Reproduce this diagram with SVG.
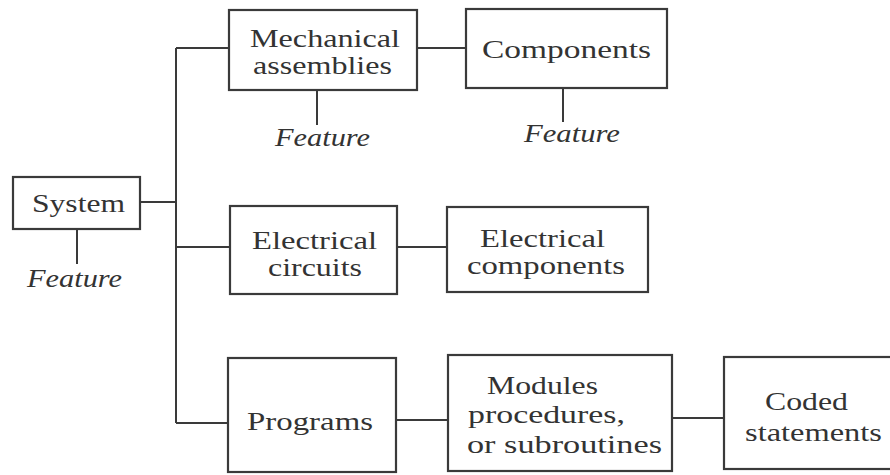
<svg xmlns="http://www.w3.org/2000/svg" width="890" height="475" viewBox="0 0 890 475">
<style>
.box{fill:none;stroke:#3a3a3a;stroke-width:2.2}
.ln{fill:none;stroke:#3a3a3a;stroke-width:2}
.t{font-family:"Liberation Serif","Times New Roman",serif;font-size:26px;fill:#333}
.f{font-family:"Liberation Serif","Times New Roman",serif;font-size:25px;font-style:italic;fill:#333}
</style>
<rect width="890" height="475" fill="#ffffff"/>
<g id="connectors">
<line class="ln" x1="176" y1="48" x2="176" y2="423"/>
<line class="ln" x1="140" y1="202" x2="176" y2="202"/>
<line class="ln" x1="176" y1="48" x2="229" y2="48"/>
<line class="ln" x1="417" y1="48" x2="466" y2="48"/>
<line class="ln" x1="176" y1="247" x2="230" y2="247"/>
<line class="ln" x1="397" y1="247" x2="447" y2="247"/>
<line class="ln" x1="176" y1="423" x2="228" y2="423"/>
<line class="ln" x1="396" y1="420" x2="448" y2="420"/>
<line class="ln" x1="672" y1="418" x2="724" y2="418"/>
<line class="ln" x1="77" y1="229" x2="77" y2="264"/>
<line class="ln" x1="317" y1="90" x2="317" y2="125"/>
<line class="ln" x1="563" y1="88" x2="563" y2="122"/>
</g>
<g id="system">
<rect class="box" x="13" y="177" width="127" height="52"/>
<text class="t" x="32" y="212" textLength="93" lengthAdjust="spacingAndGlyphs">System</text>
</g>
<g id="system-feature">
<text class="f" x="27" y="287" textLength="95" lengthAdjust="spacingAndGlyphs">Feature</text>
</g>
<g id="mechanical">
<rect class="box" x="229" y="10" width="188" height="80"/>
<text class="t" x="250" y="47" textLength="150" lengthAdjust="spacingAndGlyphs">Mechanical</text>
<text class="t" x="253" y="74" textLength="139" lengthAdjust="spacingAndGlyphs">assemblies</text>
</g>
<g id="mechanical-feature">
<text class="f" x="275" y="146" textLength="95" lengthAdjust="spacingAndGlyphs">Feature</text>
</g>
<g id="components">
<rect class="box" x="466" y="9" width="201" height="79"/>
<text class="t" x="482" y="58" textLength="169" lengthAdjust="spacingAndGlyphs">Components</text>
</g>
<g id="components-feature">
<text class="f" x="524" y="142" textLength="96" lengthAdjust="spacingAndGlyphs">Feature</text>
</g>
<g id="electrical-circuits">
<rect class="box" x="230" y="206" width="167" height="88"/>
<text class="t" x="252" y="249" textLength="125" lengthAdjust="spacingAndGlyphs">Electrical</text>
<text class="t" x="268" y="276" textLength="94" lengthAdjust="spacingAndGlyphs">circuits</text>
</g>
<g id="electrical-components">
<rect class="box" x="447" y="207" width="201" height="85"/>
<text class="t" x="480" y="247" textLength="125" lengthAdjust="spacingAndGlyphs">Electrical</text>
<text class="t" x="467" y="274" textLength="158" lengthAdjust="spacingAndGlyphs">components</text>
</g>
<g id="programs">
<rect class="box" x="228" y="358" width="168" height="114"/>
<text class="t" x="247" y="430" textLength="126" lengthAdjust="spacingAndGlyphs">Programs</text>
</g>
<g id="modules">
<rect class="box" x="448" y="355" width="224" height="116"/>
<text class="t" x="487" y="394" textLength="111" lengthAdjust="spacingAndGlyphs">Modules</text>
<text class="t" x="468" y="423" textLength="157" lengthAdjust="spacingAndGlyphs">procedures,</text>
<text class="t" x="467" y="453" textLength="195" lengthAdjust="spacingAndGlyphs">or subroutines</text>
</g>
<g id="coded-statements">
<rect class="box" x="724" y="357" width="200" height="112"/>
<text class="t" x="765" y="410" textLength="83" lengthAdjust="spacingAndGlyphs">Coded</text>
<text class="t" x="745" y="441" textLength="137" lengthAdjust="spacingAndGlyphs">statements</text>
</g>
</svg>
